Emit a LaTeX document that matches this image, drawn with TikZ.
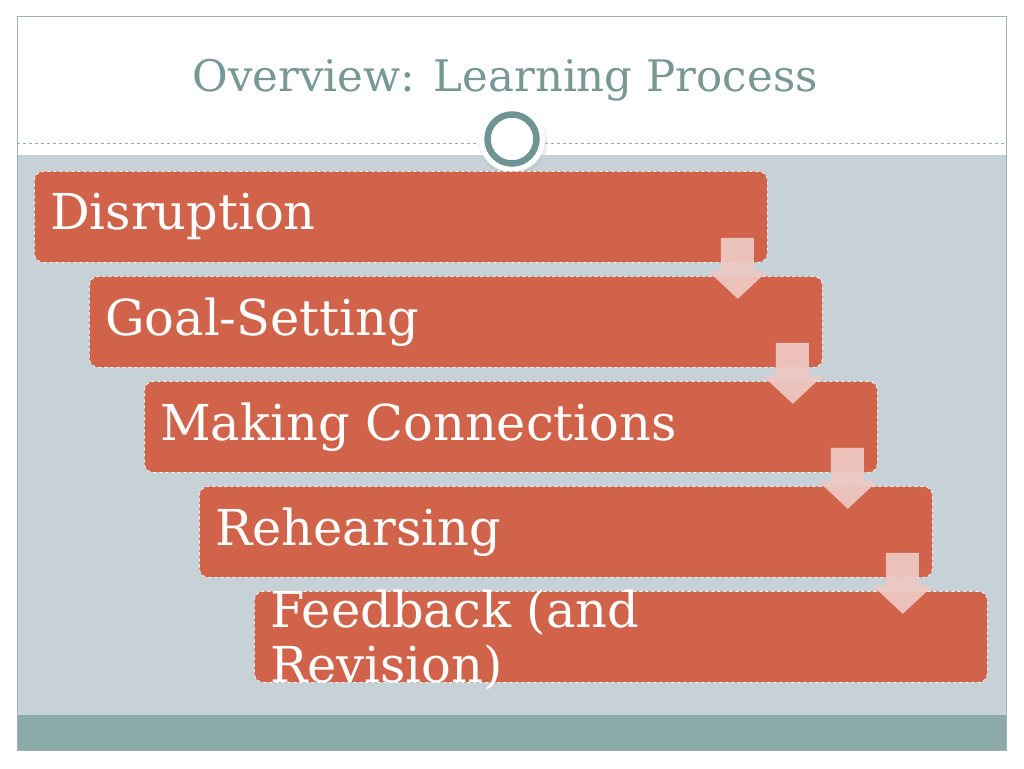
\documentclass[tikz,border=0pt]{standalone}
\usepackage{fontspec}
\setmainfont{DejaVu Serif}
\usetikzlibrary{calc}
\definecolor{boxfill}{HTML}{D0634A}
\definecolor{bgblue}{HTML}{C6D2D7}
\definecolor{bandteal}{HTML}{8AABA9}
\definecolor{titleteal}{HTML}{789896}
\definecolor{ringteal}{HTML}{6E9494}
\definecolor{framegray}{HTML}{9EB3B3}
\definecolor{arrowpink}{HTML}{EEC9C3}
\tikzset{
  stepbox/.style={rectangle, rounded corners=9pt, fill=boxfill, draw=white, dashed, line width=0.8pt,
    minimum width=733pt, minimum height=91pt, inner sep=0pt, anchor=north west},
  steplabel/.style={text=white, font=\fontsize{49.5}{55}\selectfont, anchor=west, inner sep=0pt, align=left},
  downarrow/.style={fill=arrowpink, fill opacity=0.92}
}
\begin{document}
\begin{tikzpicture}[x=1pt,y=-1pt]
\useasboundingbox (0,0) rectangle (1024,768);
\fill[white] (0,0) rectangle (1024,768);
% slide background
\fill[white] (17,17) rectangle (1006,155);
\fill[bgblue] (17,155) rectangle (1006,715);
\fill[bandteal] (17,715) rectangle (1006,750);
\draw[framegray, line width=1pt] (17,17) rectangle (1006,750);
\draw[titleteal!80, dashed, line width=0.6pt] (17,143) -- (1006,143);
% title
\node[text=titleteal, font=\fontsize{43.5}{50}\selectfont, inner sep=0pt] (title) at (505,80) {Overview: Learning Process};
% circle ornament
\fill[black!25, opacity=0.3] (513,142) circle (34);
\fill[white] (512,139) circle (33);
\draw[ringteal, line width=6.5pt] (512,139) circle (24.5) node (ring) {};
% boxes
\node[stepbox] (b1) at (34,171) {};
\node[stepbox] (b2) at (89,276) {};
\node[stepbox] (b3) at (144,381) {};
\node[stepbox] (b4) at (199,486) {};
\node[stepbox] (b5) at (254,591) {};
% labels
\node[steplabel] (t1) at ($(b1.west)+(16,0)$) {Disruption};
\node[steplabel] (t2) at ($(b2.west)+(16,0)$) {Goal-Setting};
\node[steplabel] (t3) at ($(b3.west)+(16,0)$) {Making Connections};
\node[steplabel] (t4) at ($(b4.west)+(16,0)$) {Rehearsing};
\node[steplabel] (t5) at ($(b5.west)+(16,3)$) {Feedback (and\\Revision)};
% arrows
\foreach \b in {b1,b2,b3,b4}{
  \fill[downarrow] ($(\b.south east)+(-47,-25)$) -- ++(33,0) -- ++(0,33) -- ++(14,0)
     -- ++(-30,28) -- ++(-30,-28) -- ++(13,0) -- cycle;
}
\end{tikzpicture}
\end{document}
